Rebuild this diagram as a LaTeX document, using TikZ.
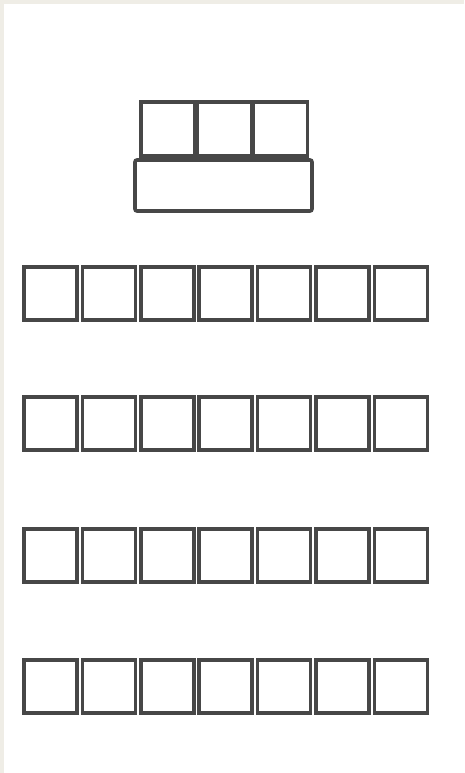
\documentclass[tikz,border=0pt]{standalone}
\usepackage{tikz}
\definecolor{edge}{HTML}{474747}
\definecolor{frame}{HTML}{EFEDE6}
\begin{document}
\begin{tikzpicture}[x=1pt,y=-1pt,
  seat/.style={draw=edge,line width=3.6pt,rectangle,inner sep=0pt,outer sep=0pt,
    minimum width=53pt,minimum height=53pt,fill=white},
  chair/.style={seat,minimum width=54pt,minimum height=54pt},
  desk/.style={draw=edge,line width=3.6pt,rectangle,inner sep=0pt,outer sep=0pt,
    minimum width=177pt,minimum height=51pt,rounded corners=2pt,fill=white}]
\useasboundingbox (0,0) rectangle (464,773);
\fill[white] (0,0) rectangle (464,773);
\fill[frame] (0,0) rectangle (4,773);
\fill[frame] (0,0) rectangle (464,4);
% teacher's chairs and desk
\node[chair] (c1) at (168,129) {};
\node[chair] (c2) at (224.5,129) {};
\node[chair] (c3) at (280.5,129) {};
\node[desk] (desk) at (223.5,185.5) {};
% rows of seats
\foreach \r/\y in {1/293.5,2/423.5,3/555.5,4/686.5}{
  \foreach \i in {0,...,6}{
    \node[seat] (s\r-\i) at ({50.5+58.4*\i},\y) {};
  }
}
\end{tikzpicture}
\end{document}
